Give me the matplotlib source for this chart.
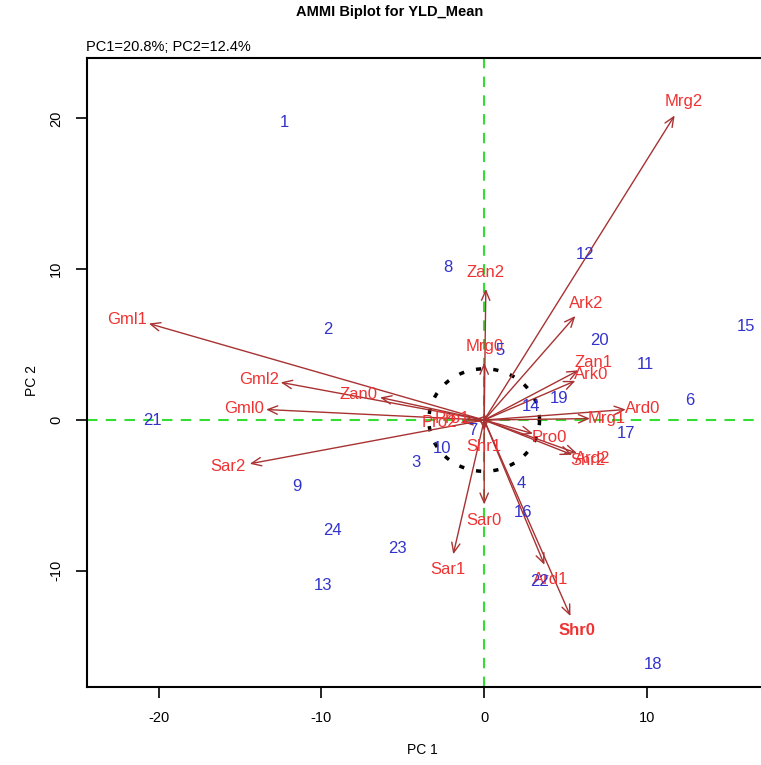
import numpy as np
import matplotlib.pyplot as plt

plt.rcParams['font.family'] = ['Liberation Sans', 'DejaVu Sans']

# genotype scores (PC1, PC2)
gen_names = [str(i) for i in range(1, 25)]
gen_pc1 = [-12.3, -9.6, -4.2, 2.3, 1.0, 12.6, -0.7, -2.2, -11.5, -2.6, 9.9, 6.2,
           -9.9, 2.9, 16.1, 2.4, 8.7, 10.4, 4.6, 7.1, -20.4, 3.4, -5.3, -9.3]
gen_pc2 = [19.7, 6.0, -2.8, -4.2, 4.6, 1.3, -0.7, 10.1, -4.4, -1.9, 3.7, 11.0,
           -11.0, 0.9, 6.2, -6.1, -0.9, -16.2, 1.4, 5.3, 0.0, -10.7, -8.5, -7.3]

# environment scores (PC1, PC2) = arrow tips
env_names = ['Mrg2', 'Zan2', 'Ark2', 'Zan1', 'Ark0', 'Ard0', 'Mrg1', 'Pro0',
             'Ard2', 'Shr2', 'Shr0', 'Ard1', 'Sar0', 'Sar1', 'Sar2', 'Gml0',
             'Gml2', 'Gml1', 'Zan0', 'Mrg0', 'Pro2', 'Shr1', 'Pro1']
env_pc1 = [11.7, 0.1, 5.6, 5.8, 5.6, 8.7, 6.5, 3.0, 5.7, 5.4, 5.3, 3.7, 0.0,
           -1.9, -14.4, -13.4, -12.5, -20.6, -6.4, 0.0, -1.4, 0.0, -0.6]
env_pc2 = [20.2, 8.7, 6.9, 3.3, 2.6, 0.7, 0.1, -0.9, -2.2, -2.3, -13.0, -9.6,
           -5.6, -8.9, -2.9, 0.7, 2.5, 6.4, 1.5, 3.8, -0.1, -0.7, 0.05]

xticks = [-20, -10, 0, 10]
yticks = [-10, 0, 10, 20]

fig = plt.figure(figsize=(7.61, 7.65), dpi=100)
# right side of the frame falls outside the picture, like the original
ax = fig.add_axes([0.1143, 0.102, 0.907, 0.822])
ax.set_xlim(-24.4, 18.0)
ax.set_ylim(-17.7, 24.0)

ax.axhline(0, color='#33dd33', lw=1.5, ls=(0, (5, 4)), zorder=1)
ax.axvline(0, color='#33dd33', lw=1.5, ls=(0, (5, 4)), zorder=1)

# dotted circle around the origin
t = np.linspace(0, 2 * np.pi, 200)
r = 3.4
ax.plot(r * np.cos(t), r * np.sin(t), color='black', lw=2.5,
        ls=(0, (1.5, 3.5)), zorder=2)

fig.canvas.draw()
for name, x, y in zip(env_names, env_pc1, env_pc2):
    ax.annotate('', xy=(x, y), xytext=(0, 0),
                arrowprops=dict(arrowstyle='->,head_length=0.7,head_width=0.3',
                                color='#a83232', lw=1.0, shrinkA=0, shrinkB=0),
                zorder=3)
    # label sits just beyond the arrow tip, along the arrow direction
    p0 = ax.transData.transform((0, 0))
    p1 = ax.transData.transform((x, y))
    d = p1 - p0
    d = d / np.hypot(*d)
    dx = d[0] * (16 if d[0] < 0 else 12)
    ax.annotate(name, xy=(x, y), xytext=(dx, d[1] * 11.5),
                textcoords='offset points', color='#ee3333', fontsize=12,
                ha='center', va='center',
                fontweight='bold' if name == 'Shr0' else 'normal', zorder=4)

for name, x, y in zip(gen_names, gen_pc1, gen_pc2):
    ax.text(x, y, name, color='#3333cc', fontsize=12, ha='center', va='center',
            zorder=5)

ax.set_xticks(xticks)
ax.set_yticks(yticks)
ax.set_xticklabels([str(v) for v in xticks])
ax.set_yticklabels([str(v) for v in yticks], rotation=90, va='center')
ax.tick_params(direction='out', length=8, width=1.2, labelsize=10.5, pad=9)
for s in ['left', 'bottom', 'top']:
    ax.spines[s].set_linewidth(1.5)
ax.spines['right'].set_visible(False)

fig.text(0.512, 0.984, 'AMMI Biplot for YLD_Mean', fontsize=10.5, fontweight='bold',
         ha='center', va='center')
fig.text(0.113, 0.938, 'PC1=20.8%; PC2=12.4%', fontsize=10.5, ha='left', va='center')
fig.text(0.555, 0.0196, 'PC 1', fontsize=10, ha='center', va='center')
fig.text(0.042, 0.503, 'PC 2', fontsize=10, ha='center', va='center', rotation=90)

fig.savefig('out.png', dpi=100)
